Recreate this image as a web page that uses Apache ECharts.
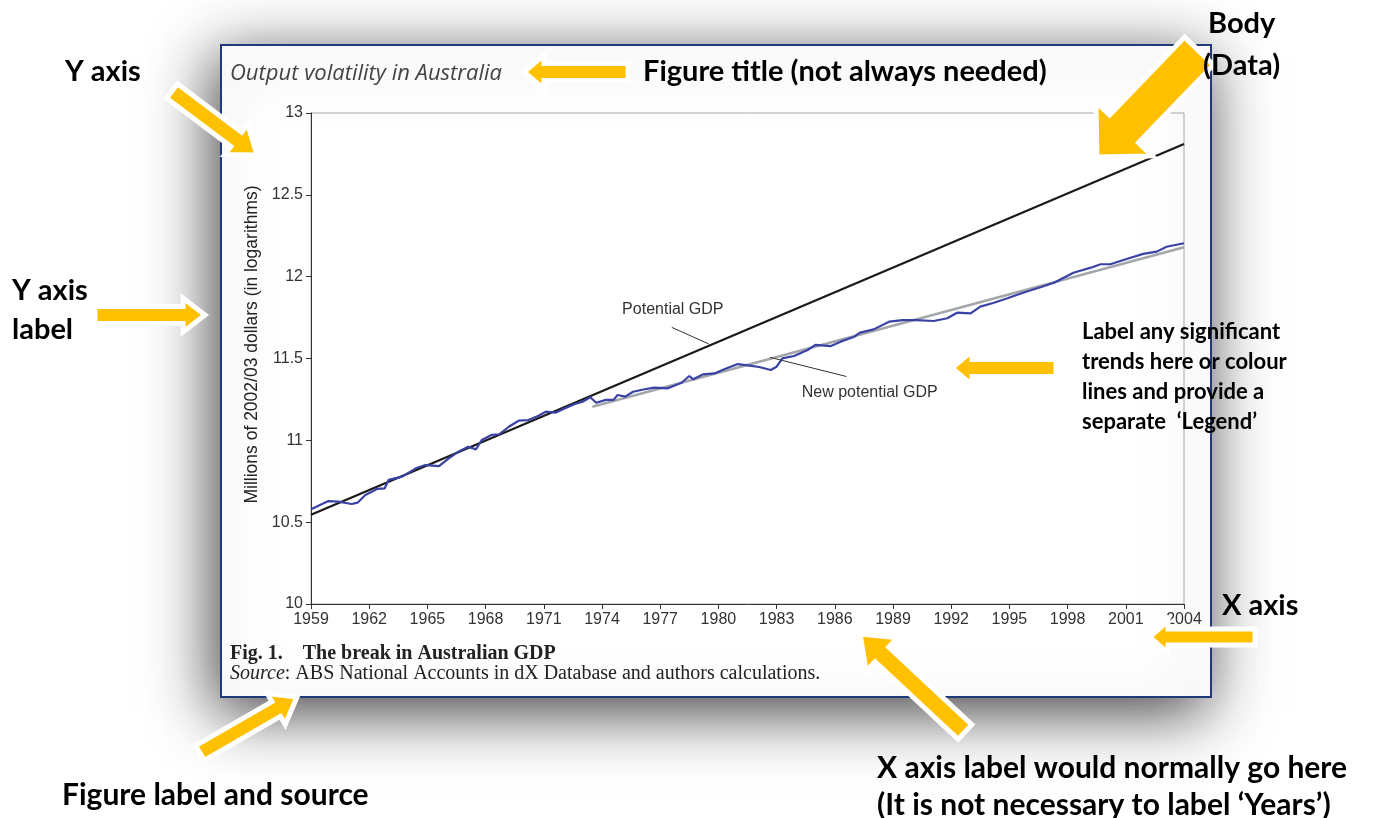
<!DOCTYPE html>
<html>
<head>
<meta charset="utf-8">
<script src="https://cdn.jsdelivr.net/npm/echarts@6/dist/echarts.min.js"></script>
<style>
  html, body { margin: 0; padding: 0; background: #fff; }
  #chart { width: 1382px; height: 818px; }
</style>
</head>
<body>
<div id="chart"></div>
<script>
var gdpYears = [1959.0, 1959.9, 1960.4, 1961.1, 1961.4, 1961.8, 1962.4, 1962.8, 1963.0, 1963.7,
	1964.4, 1964.9, 1965.6, 1966.1, 1966.6, 1967.1, 1967.5, 1967.8, 1968.3, 1968.7,
	1969.2, 1969.7, 1970.2, 1970.7, 1971.1, 1971.6, 1972.1, 1972.6, 1973.0, 1973.4,
	1973.7, 1974.2, 1974.6, 1974.8, 1975.2, 1975.6, 1976.2, 1976.7, 1977.4, 1978.1,
	1978.5, 1978.7, 1979.2, 1979.8, 1980.3, 1981.0, 1981.7, 1982.1, 1982.7, 1983.0,
	1983.3, 1983.9, 1984.6, 1985.0, 1985.8, 1986.3, 1987.0, 1987.3, 1988.0, 1988.8,
	1989.5, 1990.2, 1991.1, 1991.8, 1992.3, 1993.0, 1993.5, 1994.2, 1994.9, 1995.7,
	1996.6, 1997.3, 1998.3, 1999.2, 1999.7, 2000.2, 2001.0, 2001.9, 2002.6, 2003.1, 2004.0];
var gdpLog = [10.579, 10.629, 10.625, 10.611, 10.619, 10.666, 10.703, 10.707, 10.758, 10.778,
	10.829, 10.849, 10.843, 10.890, 10.931, 10.961, 10.945, 11.002, 11.033, 11.037,
	11.083, 11.120, 11.124, 11.149, 11.175, 11.169, 11.196, 11.222, 11.236, 11.263,
	11.230, 11.247, 11.247, 11.277, 11.267, 11.297, 11.312, 11.322, 11.318, 11.352,
	11.393, 11.373, 11.403, 11.409, 11.434, 11.466, 11.455, 11.448, 11.430, 11.450,
	11.501, 11.515, 11.552, 11.583, 11.576, 11.603, 11.633, 11.658, 11.678, 11.725,
	11.735, 11.735, 11.729, 11.746, 11.780, 11.776, 11.817, 11.841, 11.868, 11.902,
	11.935, 11.963, 12.024, 12.055, 12.076, 12.076, 12.106, 12.139, 12.153, 12.183, 12.204];

var potentialYears = [1959, 2004];
var potentialLog = [10.545, 12.81];
var newPotYears = [1973.5, 2004];
var newPotLog = [11.205, 12.18];

function pairs(xs, ys) {
	var res = [];
	for (var i = 0; i < xs.length; i++) res.push([xs[i], ys[i]]);
	return res;
}

// yellow callout arrow as a polygon, tail (x1,y1) -> tip (x2,y2)
function arrow(x1, y1, x2, y2, sw, hw, hl) {
	var dx = x2 - x1, dy = y2 - y1, L = Math.sqrt(dx * dx + dy * dy);
	var ux = dx / L, uy = dy / L, px = -uy, py = ux;
	var bx = x2 - ux * hl, by = y2 - uy * hl;
	var pts = [
		[x1 + px * sw / 2, y1 + py * sw / 2],
		[bx + px * sw / 2, by + py * sw / 2],
		[bx + px * hw / 2, by + py * hw / 2],
		[x2, y2],
		[bx - px * hw / 2, by - py * hw / 2],
		[bx - px * sw / 2, by - py * sw / 2],
		[x1 - px * sw / 2, y1 - py * sw / 2]
	];
	return {
		type: 'polygon', z: 100,
		shape: { points: pts },
		style: { fill: '#FFC000', stroke: '#fff', lineWidth: 5, lineJoin: 'miter' }
	};
}

function note(x, y, txt, size) {
	return {
		type: 'text', z: 110, x: x, y: y,
		style: {
			text: txt, fill: '#000', fontFamily: 'Lato', fontWeight: 'bold',
			fontSize: size, textVerticalAlign: 'middle'
		}
	};
}

var myChart = echarts.init(document.getElementById('chart'));

var option = {
	backgroundColor: '#fff',
	animation: false,
	title: {
		text: 'Output volatility in Australia',
		left: 225, top: 58,
		textStyle: { fontFamily: 'Open Sans', fontStyle: 'italic', fontWeight: 'normal', fontSize: 22, color: '#444' }
	},
	grid: { left: 311, right: 198, top: 113, bottom: 214, show: true, borderColor: '#a8a8a8', borderWidth: 1 },
	xAxis: {
		type: 'value', min: 1959, max: 2004, interval: 3,
		splitLine: { show: false },
		axisLine: { lineStyle: { color: '#333', width: 1 } },
		axisTick: { show: true, inside: false, length: 5, lineStyle: { color: '#333' } },
		axisLabel: {
			color: '#333', fontSize: 16, fontFamily: 'Liberation Sans', margin: 8,
			formatter: function (v) { return String(v); }
		}
	},
	yAxis: {
		type: 'value', min: 10, max: 13, interval: 0.5,
		name: 'Millions of 2002/03 dollars (in logarithms)',
		nameLocation: 'middle', nameGap: 49, nameRotate: 90,
		nameTextStyle: { color: '#222', fontSize: 17.5, fontFamily: 'Liberation Sans', padding: [0, 0, 0, 28] },
		splitLine: { show: false },
		axisLine: { show: true, lineStyle: { color: '#333', width: 1 } },
		axisTick: { show: true, inside: false, length: 5, lineStyle: { color: '#333' } },
		axisLabel: { color: '#333', fontSize: 16, fontFamily: 'Liberation Sans', margin: 8 }
	},
	series: [
		{
			name: 'Potential GDP', type: 'line', symbol: 'none',
			data: pairs(potentialYears, potentialLog),
			lineStyle: { color: '#1a1a1a', width: 2.2 },
			markLine: {
				silent: true, symbol: 'none', label: { show: false },
				lineStyle: { color: '#333', width: 1, type: 'solid' },
				data: [[{ coord: [1977.6, 11.69] }, { coord: [1979.5, 11.589] }]]
			},
			markPoint: {
				symbol: 'circle', symbolSize: 0,
				label: { show: true, position: 'inside', formatter: 'Potential GDP', color: '#333', fontSize: 16, fontFamily: 'Liberation Sans' },
				data: [{ coord: [1977.65, 11.8] }]
			}
		},
		{
			name: 'New potential GDP', type: 'line', symbol: 'none',
			data: pairs(newPotYears, newPotLog),
			lineStyle: { color: '#a3a7ab', width: 2.5 },
			markLine: {
				silent: true, symbol: 'none', label: { show: false },
				lineStyle: { color: '#333', width: 1, type: 'solid' },
				data: [[{ coord: [1982.66, 11.507] }, { coord: [1986.6, 11.39] }]]
			},
			markPoint: {
				symbol: 'circle', symbolSize: 0,
				label: { show: true, position: 'inside', formatter: 'New potential GDP', color: '#333', fontSize: 16, fontFamily: 'Liberation Sans' },
				data: [{ coord: [1987.8, 11.293] }]
			}
		},
		{
			name: 'GDP', type: 'line', symbol: 'none',
			data: pairs(gdpYears, gdpLog),
			lineStyle: { color: '#3a42a6', width: 2.2 }
		}
	],
	graphic: [
		// framed figure with drop shadow
		{
			type: 'rect', z: -10, silent: true,
			shape: { x: 221, y: 45, width: 990, height: 652 },
			style: {
				fill: '#fff', stroke: '#1f3a78', lineWidth: 2,
				shadowBlur: 60, shadowColor: 'rgba(0,0,0,0.75)', shadowOffsetX: -6, shadowOffsetY: 14
			}
		},
		{
			type: 'text', z: 5, x: 230, y: 654,
			style: {
				text: 'Fig. 1.    The break in Australian GDP', fill: '#222',
				fontFamily: 'Liberation Serif', fontWeight: 'bold', fontSize: 20, textVerticalAlign: 'middle'
			}
		},
		{
			type: 'text', z: 5, x: 230, y: 674,
			style: {
				text: '{i|Source}: ABS National Accounts in dX Database and authors calculations.',
				fill: '#222', fontFamily: 'Liberation Serif', fontSize: 20, textVerticalAlign: 'middle',
				rich: { i: { fontStyle: 'italic', fontFamily: 'Liberation Serif', fontSize: 20, fill: '#222' } }
			}
		},
		// callouts
		arrow(172, 91, 257, 155, 18, 38, 26),
		arrow(95, 315, 205, 315, 17, 34, 22),
		arrow(628, 72, 524, 72, 17, 34, 20),
		arrow(1199, 51, 1097, 157, 40, 78, 39),
		arrow(1056, 368, 952, 368, 17, 34, 20),
		arrow(1255, 637, 1150, 637, 16, 32, 18),
		arrow(965, 732, 860, 634, 20, 46, 30),
		arrow(200, 753, 297, 697, 17, 36, 24),
		note(65, 72, 'Y axis', 29),
		note(12, 291, 'Y axis', 29),
		note(12, 330, 'label', 29),
		note(643, 72, 'Figure title (not always needed)', 29),
		note(1208, 24, 'Body', 29),
		note(1203, 66, '(Data)', 29),
		note(1082, 332, 'Label any significant', 22),
		note(1082, 362, 'trends here or colour', 22),
		note(1082, 392, 'lines and provide a', 22),
		note(1082, 422, 'separate  \u2018Legend\u2019', 22),
		note(1222, 606, 'X axis', 29),
		note(877, 768, 'X axis label would normally go here', 30),
		note(877, 805, '(It is not necessary to label \u2018Years\u2019)', 30),
		note(62, 795, 'Figure label and source', 30)
	]
};

myChart.setOption(option);
</script>
</body>
</html>
